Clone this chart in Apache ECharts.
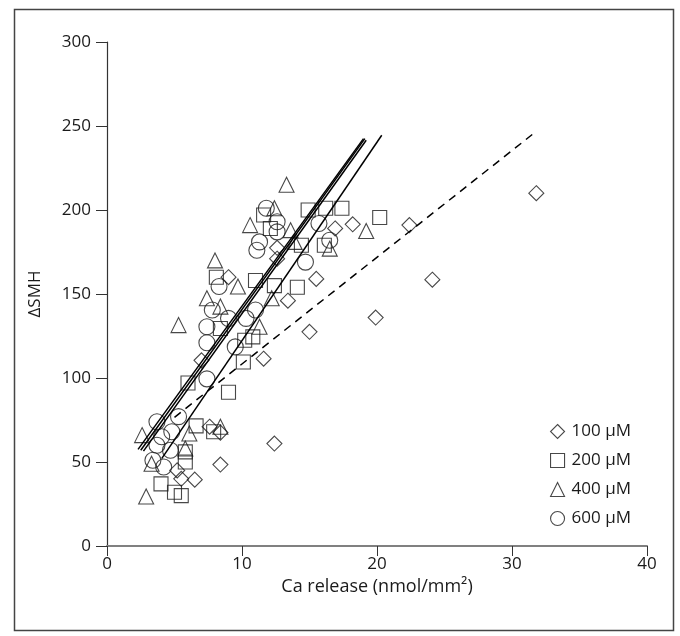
<!DOCTYPE html>
<html><head><meta charset="utf-8">
<script src="https://cdn.jsdelivr.net/npm/echarts@6/dist/echarts.min.js"></script>
<style>html,body{margin:0;padding:0;background:#fff}#c{width:680px;height:636px}</style>
</head><body><div id="c"></div>
<script>
const xTicks = [0, 10, 20, 30, 40];
const yTicks = [0, 50, 100, 150, 200, 250, 300];
const seriesNames = ['100 µM', '200 µM', '400 µM', '600 µM'];

const d100 = [[31.8,210],[24.1,158.5],[22.4,191],[19.9,136],[18.2,191.5],[16.9,189],[15.5,159],[15.0,127.5],[13.4,146],[12.6,177.5],[12.6,171],[11.6,111.5],[12.4,61],[9.0,160],[7.0,110.5],[7.6,71],[8.4,67.5],[8.4,48.5],[5.2,45],[5.5,40],[6.5,39.5]];
const d200 = [[20.2,195.5],[17.4,201],[16.2,201],[14.9,200],[11.6,197],[12.1,189],[14.4,179],[16.1,179],[8.1,160],[11.0,158],[12.4,155],[14.1,154],[8.4,129.5],[10.8,124.5],[10.2,122.5],[10.1,109.5],[6.0,97],[9.0,91.5],[6.6,71.5],[7.9,68],[5.8,56],[5.8,50],[4.0,37],[5.0,32],[5.5,30]];
const d400 = [[13.3,215],[12.4,201],[10.6,191],[13.6,188],[13.9,181],[16.5,177],[19.2,187.5],[8.0,170],[9.7,154.5],[7.4,147.5],[8.4,142.5],[12.2,147.5],[11.3,130.5],[5.3,131.5],[8.4,71],[6.1,67],[2.6,66],[5.8,58],[3.3,49],[2.9,29.5]];
const d600 = [[11.8,201],[12.6,193],[15.7,192],[12.6,187],[11.3,181],[16.5,182],[11.1,176],[14.7,169],[8.3,154.5],[7.8,140.5],[11.0,140.5],[9.0,135.5],[10.3,135.5],[7.4,130.5],[7.4,121],[9.5,118.5],[7.4,99.5],[5.3,77],[3.7,74],[4.8,68],[4.05,65],[3.7,60],[4.7,57],[3.4,51],[4.2,47]];

// fitted regression lines (endpoints)
const fit100 = [[5.0,76.6],[31.7,246.2]];
const fitA = [[2.3,57.5],[19.0,242.5]];
const fitB = [[2.5,57],[19.1,242.5]];
const fitC = [[2.7,56.5],[19.2,241.5]];
const fitD = [[4.05,52],[20.35,244.5]];

const symbols = ['diamond','rect','triangle','circle'];
const sizes = [15, 14, 15, 16];
const datas = [d100, d200, d400, d600];
const FONT = '"Open Sans", "DejaVu Sans", sans-serif';
const ink = '#1a1a1a';

const series = datas.map((d, i) => ({
  name: seriesNames[i], type: 'scatter', data: d, symbol: symbols[i], symbolSize: sizes[i],
  itemStyle: {color: 'rgba(0,0,0,0)', borderColor: ink, borderWidth: 1.1},
  emphasis: {disabled: true}, z: 3
}));
[fitA, fitB, fitC, fitD].forEach(f => series.push({
  type: 'line', data: f, symbol: 'none', silent: true, z: 4,
  lineStyle: {color: '#000', width: 1.5}
}));
series.push({type: 'line', data: fit100, symbol: 'none', silent: true, z: 4,
  lineStyle: {color: '#000', width: 1.5, type: [8, 6]}});

const chart = echarts.init(document.getElementById('c'), null, {renderer: 'canvas'});
chart.setOption({
  animation: false,
  textStyle: {fontFamily: FONT},
  grid: {left: 107, right: 33, top: 42, bottom: 90},
  xAxis: {
    type: 'value', min: xTicks[0], max: xTicks[xTicks.length-1], interval: 10,
    name: 'Ca release (nmol/mm²)', nameLocation: 'middle', nameGap: 28,
    nameTextStyle: {fontSize: 18, color: ink, fontFamily: FONT},
    axisLine: {lineStyle: {color: '#808080', width: 2}},
    axisTick: {show: true, length: 10, lineStyle: {color: '#333', width: 1}},
    axisLabel: {fontSize: 17, color: ink, margin: 10, fontFamily: FONT},
    splitLine: {show: false}
  },
  yAxis: {
    type: 'value', min: yTicks[0], max: yTicks[yTicks.length-1], interval: 50,
    name: 'ΔSMH', nameLocation: 'middle', nameGap: 63, nameRotate: 90,
    nameTextStyle: {fontSize: 17, color: ink, fontFamily: FONT},
    axisLine: {show: true, lineStyle: {color: '#333', width: 1.2}},
    axisTick: {show: true, length: 11, lineStyle: {color: '#333', width: 1}},
    axisLabel: {fontSize: 17, color: ink, margin: 16, fontFamily: FONT},
    splitLine: {show: false}
  },
  legend: {
    orient: 'vertical', left: 545, top: 418, itemGap: 12, itemWidth: 14, itemHeight: 14,
    textStyle: {fontSize: 17, color: ink, fontFamily: FONT, padding: [0, 0, 0, 2]},
    data: seriesNames.map((n, i) => ({name: n, icon: symbols[i],
      itemStyle: {color: 'rgba(0,0,0,0)', borderColor: ink, borderWidth: 1.1}}))
  },
  graphic: [{type: 'rect', left: 12, top: 7, shape: {width: 659, height: 621},
    style: {fill: 'none', stroke: '#444', lineWidth: 1.5}, silent: true}],
  series: series
});
</script></body></html>
